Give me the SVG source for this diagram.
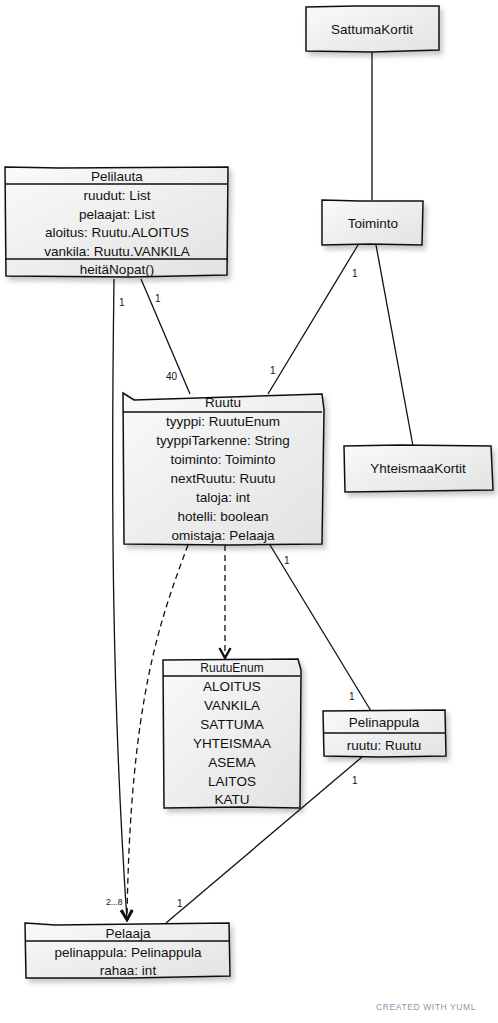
<svg xmlns="http://www.w3.org/2000/svg" width="498" height="1023" viewBox="0 0 498 1023">
<defs>
<linearGradient id="g" x1="0" y1="0" x2="1" y2="1">
<stop offset="0" stop-color="#fafafa"/>
<stop offset="1" stop-color="#e2e2e2"/>
</linearGradient>
<filter id="sh" x="-10%" y="-10%" width="130%" height="140%">
<feDropShadow dx="3" dy="4" stdDeviation="2.5" flood-color="#000" flood-opacity="0.22"/>
</filter>
<marker id="arr" viewBox="0 0 14 14" refX="12" refY="7" markerWidth="14" markerHeight="14" markerUnits="userSpaceOnUse" orient="auto">
<path d="M2,1.5 L12,7 L2,12.5" fill="none" stroke="#111" stroke-width="2.4"/>
</marker>
</defs>
<style>
.box{fill:url(#g);stroke:#111;stroke-width:1.5;filter:url(#sh)}
.div{stroke:#111;stroke-width:1.5}
text{font-family:"Liberation Sans","DejaVu Sans",sans-serif;font-size:13.5px;fill:#111;text-anchor:middle}
.lbl{font-size:10px;text-anchor:start;fill:#111}
.edge{fill:none;stroke:#111;stroke-width:1.3}
.dash{stroke-dasharray:6,4}
.foot{font-size:8.5px;fill:#8a97aa;letter-spacing:0.6px;text-anchor:start}
</style>
<rect width="498" height="1023" fill="#fff"/>
<g id="connectors">
<path class="edge" d="M372,52 L372,200"/>
<path class="edge" d="M376,245 L413,446"/>
<path class="edge" d="M358,245 L268,394"/>
<path class="edge" d="M141,279 L190,394"/>
<path class="edge" d="M114,279 C111,500 112,700 127,920" marker-end="url(#arr)"/>
<path class="edge dash" d="M188,545 C160,620 130,700 127,920" marker-end="url(#arr)"/>
<path class="edge dash" d="M225,545 L225,658" marker-end="url(#arr)"/>
<path class="edge" d="M270,545 L371,711"/>
<path class="edge" d="M362,757 L166,923"/>
<text class="lbl" x="352" y="277">1</text>
<text class="lbl" x="270" y="374">1</text>
<text class="lbl" x="155" y="302">1</text>
<text class="lbl" x="119" y="306">1</text>
<text class="lbl" x="166" y="380">40</text>
<text class="lbl" x="284" y="564">1</text>
<text class="lbl" x="349" y="700">1</text>
<text class="lbl" x="352" y="784">1</text>
<text class="lbl" x="177" y="907">1</text>
<text class="lbl" x="106" y="905" style="font-size:8.5px">2...8</text>
</g>
<g id="SattumaKortit">
<path class="box" d="M306,7 L355,6 L439,6 L439,50 L372,52 L306,51 Z"/>
<text x="372" y="34">SattumaKortit</text>
</g>
<g id="Toiminto">
<path class="box" d="M322,200 L360,201 L423,201 L422,245 L370,244 L322,245 Z"/>
<text x="373" y="228">Toiminto</text>
</g>
<g id="Pelilauta">
<path class="box" d="M5,167 L60,168 L228,167 L227,275 L130,277 L6,276 Z"/>
<line class="div" x1="5" y1="184" x2="228" y2="184"/>
<line class="div" x1="5" y1="259" x2="228" y2="259"/>
<text x="117" y="181">Pelilauta</text>
<text x="117" y="200">ruudut: List</text>
<text x="117" y="219">pelaajat: List</text>
<text x="117" y="237">aloitus: Ruutu.ALOITUS</text>
<text x="117" y="256">vankila: Ruutu.VANKILA</text>
<text x="117" y="274">heitäNopat()</text>
</g>
<g id="Ruutu">
<path class="box" d="M123,393 L134,400 L322,394 L324,410 L322,544 L230,545 L124,544 Z"/>
<line class="div" x1="123" y1="412" x2="322" y2="412"/>
<text x="223" y="407">Ruutu</text>
<text x="223" y="426">tyyppi: RuutuEnum</text>
<text x="223" y="445">tyyppiTarkenne: String</text>
<text x="223" y="464">toiminto: Toiminto</text>
<text x="223" y="483">nextRuutu: Ruutu</text>
<text x="223" y="502">taloja: int</text>
<text x="223" y="521">hotelli: boolean</text>
<text x="223" y="540">omistaja: Pelaaja</text>
</g>
<g id="RuutuEnum">
<path class="box" d="M163,660 L298,659 L301,670 L300,808 L240,807 L164,808 Z"/>
<line class="div" x1="163" y1="676" x2="300" y2="676"/>
<text x="232" y="672" style="font-size:12px">RuutuEnum</text>
<text x="232" y="691">ALOITUS</text>
<text x="232" y="710">VANKILA</text>
<text x="232" y="729">SATTUMA</text>
<text x="232" y="748">YHTEISMAA</text>
<text x="232" y="767">ASEMA</text>
<text x="232" y="786">LAITOS</text>
<text x="232" y="804">KATU</text>
</g>
<g id="Pelinappula">
<path class="box" d="M323,711 L445,710 L446,756 L380,757 L324,756 Z"/>
<line class="div" x1="323" y1="733" x2="446" y2="733"/>
<text x="384" y="727">Pelinappula</text>
<text x="384" y="750">ruutu: Ruutu</text>
</g>
<g id="Pelaaja">
<path class="box" d="M25,923 L55,925 L229,923 L230,976 L130,978 L26,978 Z"/>
<line class="div" x1="25" y1="941" x2="229" y2="941"/>
<text x="128" y="938">Pelaaja</text>
<text x="128" y="957">pelinappula: Pelinappula</text>
<text x="128" y="975">rahaa: int</text>
</g>
<g id="YhteismaaKortit">
<path class="box" d="M344,446 L400,445 L491,446 L493,490 L420,491 L345,492 Z"/>
<text x="418" y="473">YhteismaaKortit</text>
</g>
<text class="foot" x="376" y="1010">CREATED WITH YUML</text>
</svg>
